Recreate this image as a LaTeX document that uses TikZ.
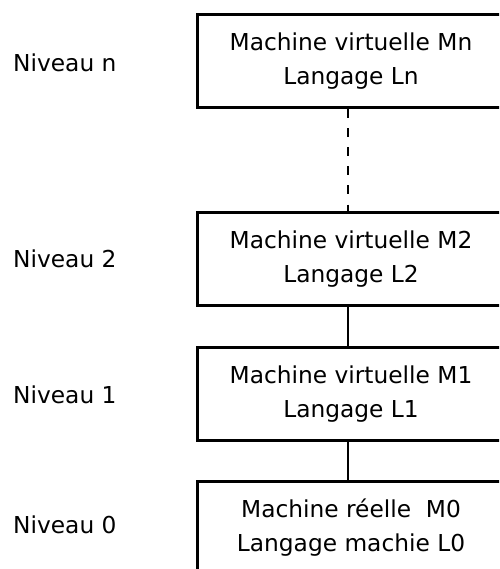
\documentclass[tikz,border=0pt]{standalone}
\usepackage{fontspec}
\setmainfont{DejaVu Sans}
\usetikzlibrary{positioning}

\tikzset{
    machine/.style={draw, line width=3pt, minimum width=308pt, minimum height=93pt,
        inner sep=0pt, align=center, font=\fontsize{23.3}{34}\selectfont},
    niveau/.style={anchor=west, inner sep=0pt, font=\fontsize{23.3}{28}\selectfont},
    lien/.style={line width=1.2pt},
}

\begin{document}
\begin{tikzpicture}[x=1pt,y=-1pt]

    \useasboundingbox (0,0) rectangle (499,569);
    \clip (0,0) rectangle (499,569);

    %les machines
    \node[machine] (mn) at (351,61.5) {Machine virtuelle Mn\\Langage Ln};
    \node[machine] (m2) at (351,259) {Machine virtuelle M2\\Langage L2};
    \node[machine] (m1) at (351,394) {Machine virtuelle M1\\Langage L1};
    \node[machine] (m0) at (351,527.5) {Machine r\'eelle~~M0\\Langage machie L0};

    %les niveaux
    \node[niveau] (nn) at (13,63) {Niveau n};
    \node[niveau] (n2) at (13,259) {Niveau 2};
    \node[niveau] (n1) at (13,395) {Niveau 1};
    \node[niveau] (n0) at (13,525) {Niveau 0};

    \draw[lien, dash pattern=on 9pt off 10pt] ([xshift=-3pt]mn.south) -- ([xshift=-3pt]m2.north);
    \draw[lien] ([xshift=-3pt]m2.south) -- ([xshift=-3pt]m1.north);
    \draw[lien] ([xshift=-3pt]m1.south) -- ([xshift=-3pt]m0.north);

\end{tikzpicture}
\end{document}
